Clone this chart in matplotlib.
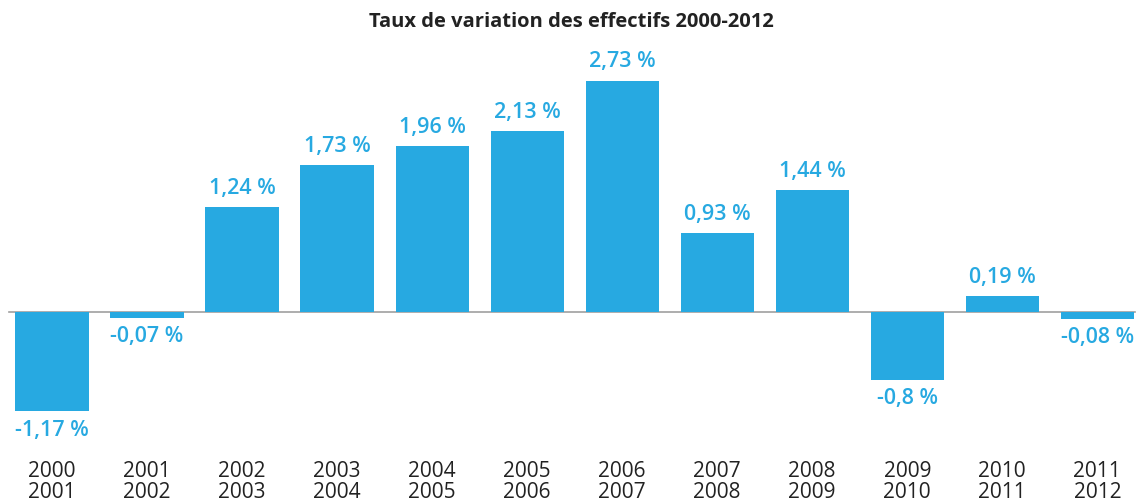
import matplotlib
matplotlib.use("Agg")
import matplotlib.pyplot as plt
import matplotlib.transforms as mtransforms

periods = ["2000\n2001", "2001\n2002", "2002\n2003", "2003\n2004", "2004\n2005", "2005\n2006",
           "2006\n2007", "2007\n2008", "2008\n2009", "2009\n2010", "2010\n2011", "2011\n2012"]
rates = [-1.17, -0.07, 1.24, 1.73, 1.96, 2.13, 2.73, 0.93, 1.44, -0.8, 0.19, -0.08]
labels = ["-1,17 %", "-0,07 %", "1,24 %", "1,73 %", "1,96 %", "2,13 %",
          "2,73 %", "0,93 %", "1,44 %", "-0,8 %", "0,19 %", "-0,08 %"]

blue = "#27a9e1"
plt.rcParams['font.family'] = ['Open Sans', 'DejaVu Sans']

fig = plt.figure(figsize=(11.42, 5.03), dpi=100)
ax = fig.add_axes([0, 0, 1, 1])
ax.set_xlim(-0.547, 11.47)
ax.set_ylim(-2.25, 3.68)
ax.axis("off")

x = list(range(len(rates)))
ax.bar(x, rates, width=0.77, color=blue, zorder=2)
ax.axhline(0, xmin=0.008, xmax=0.994, color="#a0a0a0", lw=1.2, zorder=1)

for i, (v, t) in enumerate(zip(rates, labels)):
    if v >= 0:
        ax.annotate(t, (i, v), xytext=(0, 6), textcoords="offset points",
                    ha="center", va="bottom", color=blue, fontsize=15.5, fontweight="semibold")
    else:
        ax.annotate(t, (i, v), xytext=(0, -6), textcoords="offset points",
                    ha="center", va="top", color=blue, fontsize=15.5, fontweight="semibold")

trans = mtransforms.blended_transform_factory(ax.transData, fig.transFigure)
for i, p in enumerate(periods):
    ax.text(i, 0.0, p, transform=trans, ha="center", va="bottom",
            fontsize=15, color="#222222", linespacing=0.98)

fig.text(0.5, 0.956, "Taux de variation des effectifs 2000-2012", ha="center", va="center",
         fontsize=14.5, fontweight="bold", color="#222222")

fig.savefig("out.png", dpi=100)
